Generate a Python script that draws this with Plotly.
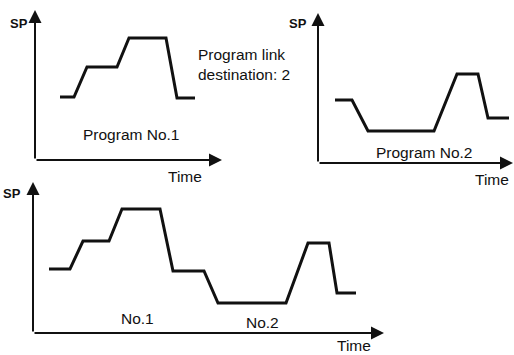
import plotly.graph_objects as go

# ── Data (time / SP in arbitrary units) ────────────────────────────────────────
T_PROG1  = [2.5, 3.9, 5.2, 8.2, 9.4, 13.1, 14.2, 16.0]
SP_PROG1 = [6.3, 6.3, 9.3, 9.3, 12.2, 12.2, 6.2, 6.2]

T_PROG2  = [1.7, 3.4, 5.0, 11.6, 13.9, 16.0, 17.0, 19.1]
SP_PROG2 = [6.3, 6.3, 3.2, 3.2, 8.9, 8.9, 4.5, 4.5]

T_LINK  = [1.6, 3.7, 5.0, 7.6, 8.9, 12.7, 14.0, 17.1, 18.5, 25.3, 27.5, 29.6, 30.4, 32.3]
SP_LINK = [6.4, 6.4, 9.2, 9.2, 12.4, 12.4, 6.2, 6.2, 3.0, 3.0, 9.0, 9.0, 4.0, 4.0]

W, H = 514, 355
INK = "#111111"
FONT = "Liberation Sans, Arial, sans-serif"

# panel boxes in pixels: (left, right, top, bottom) and axis ranges
PANELS = [
    dict(box=(35, 222, 10, 160),  xr=18.7, yr=15.0, t=T_PROG1, sp=SP_PROG1),
    dict(box=(318, 513, 13, 163), xr=19.5, yr=15.0, t=T_PROG2, sp=SP_PROG2),
    dict(box=(33, 384, 182, 333), xr=35.1, yr=15.1, t=T_LINK,  sp=SP_LINK),
]

fig = go.Figure()
annotations = []

for i, p in enumerate(PANELS, start=1):
    l, r, t, b = p["box"]
    sfx = "" if i == 1 else str(i)
    fig.add_trace(go.Scatter(
        x=p["t"], y=p["sp"], mode="lines",
        line=dict(color=INK, width=3),
        xaxis="x" + sfx, yaxis="y" + sfx,
        showlegend=False, hoverinfo="skip"
    ))
    axis_common = dict(visible=False, showgrid=False, zeroline=False, fixedrange=True)
    fig.update_layout(**{
        "xaxis" + sfx: dict(domain=[l / W, r / W], range=[0, p["xr"]],
                            anchor="y" + sfx, **axis_common),
        "yaxis" + sfx: dict(domain=[1 - b / H, 1 - t / H], range=[0, p["yr"]],
                            anchor="x" + sfx, **axis_common),
    })
    # axis arrows (time and SP)
    for (x, y) in [(1, 0), (0, 1)]:
        annotations.append(dict(
            x=x, y=y, ax=0, ay=0,
            xref=f"x{sfx} domain", yref=f"y{sfx} domain",
            axref=f"x{sfx} domain", ayref=f"y{sfx} domain",
            showarrow=True, arrowhead=2, arrowsize=1.3,
            arrowwidth=2, arrowcolor=INK, text="", standoff=0, startstandoff=0
        ))

# ── Labels ────────────────────────────────────────────────────────────────────
def label(text, px, py, size=15.5, bold=False, align="center", xanchor="center"):
    annotations.append(dict(
        x=px / W, y=1 - py / H, xref="paper", yref="paper",
        text=f"<b>{text}</b>" if bold else text,
        showarrow=False, align=align, xanchor=xanchor, yanchor="middle",
        borderpad=0,
        font=dict(family=FONT, size=size, color=INK)
    ))

label("SP", 19, 23, size=13, bold=True)
label("SP", 298, 23, size=13, bold=True)
label("SP", 12, 193, size=13, bold=True)
label("Time", 185, 176)
label("Time", 492, 179)
label("Time", 354, 345)
label("Program No.1", 131, 135)
label("Program No.2", 424, 152)
label("No.1", 137, 318)
label("No.2", 262, 322)
label("Program link<br>destination: 2", 197, 65, align="left", xanchor="left")

fig.update_layout(
    annotations=annotations,
    width=W, height=H,
    margin=dict(l=0, r=0, t=0, b=0),
    paper_bgcolor="white", plot_bgcolor="white"
)

# page body has a default 8px margin; drop it so the figure fills the window
fig.write_html("out.html",
               config={"displayModeBar": False},
               post_script="document.body.style.margin='0';"
                           "document.body.style.overflow='hidden';")
